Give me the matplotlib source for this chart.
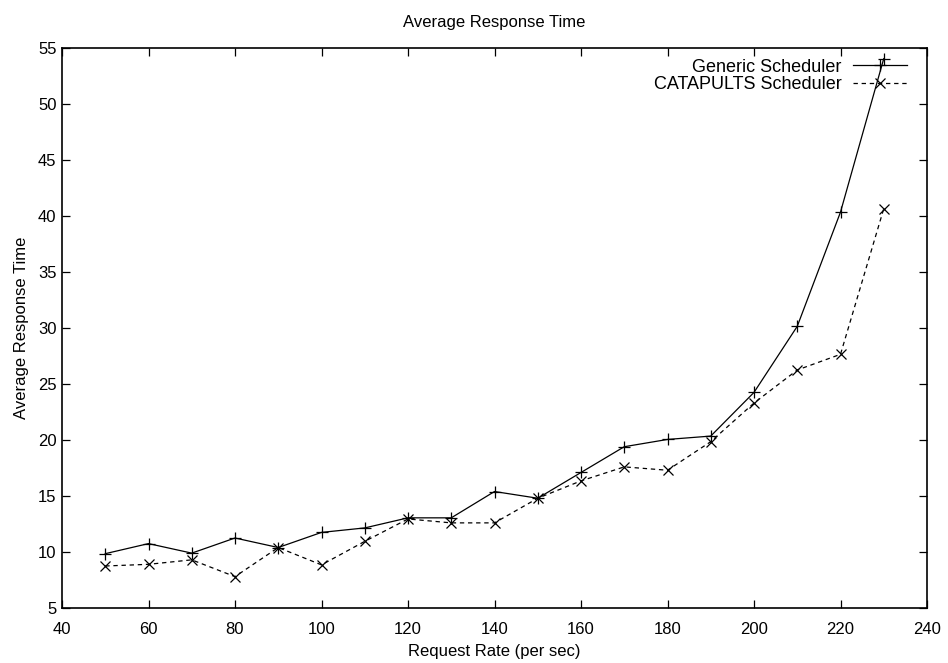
import matplotlib
matplotlib.use("Agg")
import matplotlib.pyplot as plt

plt.rcParams['font.family'] = ['Liberation Sans', 'DejaVu Sans']

rates = [50, 60, 70, 80, 90, 100, 110, 120, 130, 140, 150, 160, 170, 180, 190, 200, 210, 220, 230]
generic = [9.85, 10.75, 9.9, 11.25, 10.4, 11.75, 12.15, 13.05, 13.05, 15.4, 14.8, 17.1, 19.4, 20.05, 20.35, 24.25, 30.15, 40.35, 54.05]
catapults = [8.75, 8.9, 9.3, 7.8, 10.4, 8.85, 10.95, 12.95, 12.6, 12.6, 14.8, 16.35, 17.6, 17.3, 19.85, 23.3, 26.25, 27.65, 40.65]

xticks = [40, 60, 80, 100, 120, 140, 160, 180, 200, 220, 240]
yticks = [5, 10, 15, 20, 25, 30, 35, 40, 45, 50, 55]

fig = plt.figure(figsize=(9.48, 6.63), dpi=100)
ax = fig.add_axes([62/948, 55/663, 865/948, 560/663])

ax.plot(rates, generic, color='black', linestyle='-', linewidth=0.9,
        marker='+', markersize=9, markeredgewidth=0.9, label='Generic Scheduler')
ax.plot(rates, catapults, color='black', linestyle=(0, (3.5, 3)), linewidth=0.9,
        marker='x', markersize=7, markeredgewidth=0.9, label='CATAPULTS Scheduler')

ax.set_xlim(40, 240)
ax.set_ylim(5, 55)
ax.set_xticks(xticks)
ax.set_yticks(yticks)
ax.tick_params(direction='in', length=6, width=0.9, top=True, right=True,
               labelsize=12)
ax.tick_params(axis='x', pad=10)
ax.tick_params(axis='y', pad=4)
for s in ax.spines.values():
    s.set_linewidth(1.2)

ax.set_title('Average Response Time', fontsize=12, pad=15)
ax.set_xlabel('Request Rate (per sec)', fontsize=12, labelpad=5)
ax.set_ylabel('Average Response Time', fontsize=12, labelpad=6)

leg = ax.legend(loc='upper right', bbox_to_anchor=(0.985, 0.994), frameon=False,
                markerfirst=False, fontsize=13, handlelength=3.0, handletextpad=0.6,
                labelspacing=0.05, borderaxespad=0.0)
for t in leg.get_texts():
    t.set_ha('right')

fig.savefig('out.png', dpi=100)
